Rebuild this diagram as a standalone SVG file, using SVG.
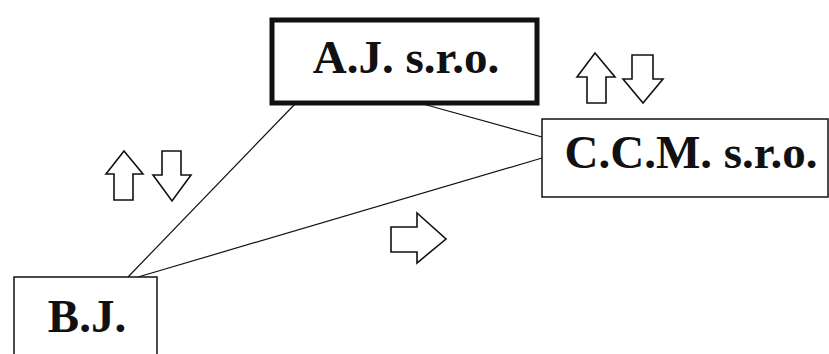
<svg xmlns="http://www.w3.org/2000/svg" width="829" height="354" viewBox="0 0 829 354">
<style>
.lbl{font-family:"Liberation Serif","Times New Roman",serif;font-weight:bold;font-size:47px;fill:#111}
.box{fill:#fff;stroke:#111}
.arr{fill:#fff;stroke:#111;stroke-width:1.6;stroke-linejoin:miter}
.con{stroke:#111;stroke-width:1.2;fill:none}
</style>
<rect width="829" height="354" fill="#fff"/>
<g id="connectors">
<line class="con" x1="295" y1="104" x2="128" y2="277"/>
<line class="con" x1="423" y1="104" x2="542" y2="137"/>
<line class="con" x1="138" y1="277" x2="542" y2="158"/>
</g>
<g id="node-aj">
<rect class="box" x="272" y="20" width="265" height="83" stroke-width="5"/>
<text class="lbl" x="406" y="73" text-anchor="middle">A.J. s.r.o.</text>
</g>
<g id="node-ccm">
<rect class="box" x="542" y="119" width="286" height="78" stroke-width="1.5"/>
<text class="lbl" x="691" y="168" text-anchor="middle">C.C.M. s.r.o.</text>
</g>
<g id="node-bj">
<rect class="box" x="14" y="277" width="143" height="90" stroke-width="1.5"/>
<text class="lbl" x="87" y="332" text-anchor="middle">B.J.</text>
</g>
<g id="arrows">
<polygon class="arr" points="595,53 615,77 606,77 606,103 587,103 587,77 577,77"/>
<polygon class="arr" points="632,55 653,55 653,79 663,79 643,103 623,79 632,79"/>
<polygon class="arr" points="124,151 143,174 133,174 133,200 114,200 114,174 106,174"/>
<polygon class="arr" points="162,151 181,151 181,175 191,175 172,201 153,175 162,175"/>
<polygon class="arr" points="391,227 417,227 417,213 446,239 417,263 417,252 391,252"/>
</g>
</svg>
